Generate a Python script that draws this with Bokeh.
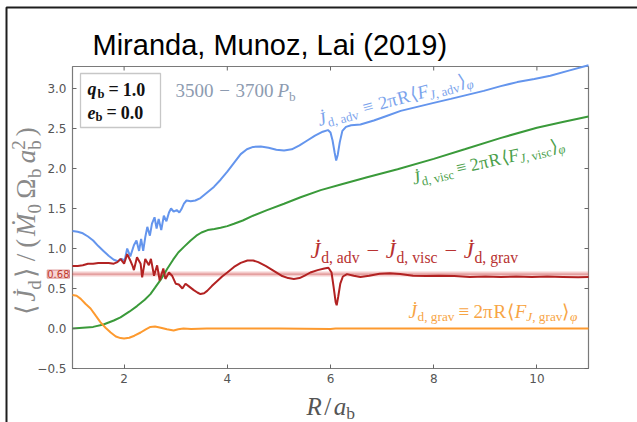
from math import cos, sin, radians

from bokeh.plotting import figure
from bokeh.models import Label, BoxAnnotation, Range1d, FixedTicker
from bokeh.embed import file_html
from bokeh.resources import INLINE

# ---------------- data: time-averaged angular momentum transfer profiles ----------------
r_adv = [1.00, 1.10, 1.20, 1.30, 1.40, 1.50, 1.60, 1.70, 1.80, 1.88, 1.95, 2.01, 2.06, 2.12,
         2.19, 2.24, 2.29, 2.33, 2.37, 2.41, 2.45, 2.50, 2.54, 2.59, 2.63, 2.67, 2.72, 2.77,
         2.82, 2.87, 2.91, 2.96, 3.02, 3.07, 3.11, 3.16, 3.21, 3.29, 3.38, 3.48, 3.61, 3.74,
         3.87, 4.00, 4.13, 4.26, 4.38, 4.50, 4.65, 4.80, 4.95, 5.10, 5.25, 5.40, 5.55, 5.70,
         5.85, 5.95, 6.00, 6.04, 6.08, 6.11, 6.14, 6.18, 6.23, 6.30, 6.40, 6.58, 6.84, 7.10,
         7.36, 7.68, 8.00, 8.33, 8.65, 8.97, 9.30, 9.62, 9.95, 10.26, 10.60, 11.00]
j_adv = [1.22, 1.21, 1.19, 1.15, 1.10, 1.03, 0.97, 0.91, 0.86, 0.84, 0.87, 0.85, 1.00, 0.90,
         1.04, 1.10, 0.97, 1.12, 0.97, 1.14, 1.27, 1.16, 1.31, 1.39, 1.25, 1.37, 1.23, 1.41,
         1.34, 1.45, 1.50, 1.46, 1.48, 1.45, 1.49, 1.56, 1.60, 1.59, 1.60, 1.63, 1.70, 1.77,
         1.86, 1.96, 2.07, 2.18, 2.24, 2.27, 2.275, 2.26, 2.235, 2.225, 2.24, 2.29, 2.35, 2.41,
         2.46, 2.48, 2.45, 2.35, 2.20, 2.10, 2.17, 2.33, 2.47, 2.52, 2.54, 2.55, 2.60, 2.66,
         2.72, 2.77, 2.82, 2.87, 2.92, 2.97, 3.03, 3.08, 3.12, 3.16, 3.22, 3.29]

r_visc = [1.00, 1.20, 1.40, 1.60, 1.80, 1.93, 2.10, 2.25, 2.40, 2.51, 2.60, 2.71, 2.84, 2.95,
          3.05, 3.16, 3.29, 3.40, 3.50, 3.62, 3.75, 3.87, 4.00, 4.13, 4.30, 4.50, 4.77, 5.10,
          5.42, 5.81, 6.20, 6.71, 7.30, 8.00, 8.60, 9.29, 10.00, 10.50, 11.00]
j_visc = [0.00, 0.01, 0.02, 0.05, 0.10, 0.14, 0.21, 0.28, 0.36, 0.43, 0.51, 0.61, 0.75, 0.86,
          0.95, 1.02, 1.10, 1.16, 1.20, 1.23, 1.245, 1.26, 1.28, 1.31, 1.35, 1.41, 1.48, 1.56,
          1.64, 1.73, 1.80, 1.89, 1.99, 2.12, 2.24, 2.38, 2.51, 2.58, 2.65]

r_net = [1.00, 1.10, 1.20, 1.30, 1.40, 1.50, 1.60, 1.70, 1.80, 1.87, 1.93, 2.00, 2.06, 2.12,
         2.16, 2.19, 2.25, 2.32, 2.35, 2.41, 2.48, 2.52, 2.58, 2.64, 2.69, 2.76, 2.80, 2.87,
         2.93, 3.00, 3.06, 3.13, 3.19, 3.25, 3.35, 3.42, 3.48, 3.55, 3.61, 3.70, 3.80, 3.90,
         4.00, 4.13, 4.26, 4.39, 4.50, 4.60, 4.75, 4.90, 5.05, 5.18, 5.29, 5.40, 5.50, 5.61,
         5.75, 5.88, 5.96, 6.02, 6.06, 6.10, 6.12, 6.15, 6.19, 6.24, 6.32, 6.45, 6.58, 6.75,
         6.95, 7.15, 7.35, 7.60, 7.85, 8.10, 8.40, 8.70, 9.00, 9.30, 9.60, 9.90, 10.20, 10.50,
         10.80, 11.00]
j_net = [0.78, 0.78, 0.79, 0.81, 0.81, 0.82, 0.82, 0.82, 0.81, 0.83, 0.87, 0.81, 0.93, 0.85,
         0.79, 0.73, 0.89, 0.81, 0.64, 0.87, 0.79, 0.87, 0.66, 0.79, 0.60, 0.75, 0.62, 0.70,
         0.66, 0.56, 0.55, 0.50, 0.56, 0.53, 0.48, 0.45, 0.43, 0.44, 0.47, 0.53, 0.59, 0.65,
         0.70, 0.77, 0.82, 0.85, 0.85, 0.83, 0.78, 0.72, 0.66, 0.63, 0.62, 0.63, 0.66, 0.70,
         0.73, 0.75, 0.76, 0.70, 0.52, 0.33, 0.29, 0.40, 0.56, 0.65, 0.68, 0.66, 0.645, 0.66,
         0.685, 0.69, 0.68, 0.66, 0.655, 0.66, 0.655, 0.645, 0.65, 0.645, 0.65, 0.645, 0.65, 0.645,
         0.64, 0.645]

r_grav = [1.00, 1.08, 1.16, 1.25, 1.35, 1.45, 1.54, 1.64, 1.74, 1.84, 1.93, 2.00, 2.10, 2.20,
          2.32, 2.42, 2.51, 2.60, 2.71, 2.83, 2.96, 3.05, 3.15, 3.30, 3.60, 4.00, 5.00, 6.00,
          6.10, 7.00, 8.00, 9.00, 10.00, 11.00]
j_grav = [0.42, 0.41, 0.37, 0.31, 0.25, 0.16, 0.08, 0.01, -0.05, -0.10, -0.12, -0.125, -0.115, -0.09,
          -0.05, -0.01, 0.02, 0.025, 0.01, -0.01, -0.025, -0.01, 0.00, -0.005, 0.00, 0.00, 0.00, -0.005,
          0.00, 0.00, 0.00, 0.00, 0.00, 0.00]

net_mean = 0.68
net_mean_label = "0.68"

x_ticks = [2, 4, 6, 8, 10]
x_tick_labels = ["2", "4", "6", "8", "10"]
y_ticks = [-0.5, 0.0, 0.5, 1.0, 1.5, 2.0, 2.5, 3.0]
y_tick_labels = ["\u22120.5", "0.0", "0.5", "1.0", "1.5", "2.0", "2.5", "3.0"]

# axes box limits
X0, X1 = 1.0, 11.0
Y0, Y1 = -0.5, 3.275

C_ADV, C_VISC, C_NET, C_GRAV = "#6495ed", "#3a9a3a", "#b22222", "#fd9a2f"

# page-pixel helpers: the axes box spans 72..588 px across and 66..368 px down
PX_PER_X = 51.6
PX_PER_Y = 80.0
W, H = 637, 422


def dx(px):
    return X0 + (px - 72) / PX_PER_X


def dy(py):
    return Y0 + (368 - py) / PX_PER_Y


# ---------------- figure ----------------
# the frame fills the whole canvas; the axes are pinned to the edges of the box
p = figure(width=W, height=H, x_range=Range1d(dx(0), dx(W)), y_range=Range1d(dy(H), dy(0)),
           output_backend="svg", toolbar_location=None,
           min_border_left=0, min_border_right=0, min_border_top=0, min_border_bottom=0)
p.xgrid.visible = False
p.ygrid.visible = False
p.outline_line_color = None
p.background_fill_color = "white"
p.border_fill_color = "white"

p.xaxis.fixed_location = Y0
p.yaxis.fixed_location = X0
for ax in (p.xaxis[0], p.yaxis[0]):
    ax.axis_line_color = None
    ax.major_tick_in = 4
    ax.major_tick_out = 0
    ax.minor_tick_line_color = None
    ax.major_tick_line_color = "#666666"
    ax.major_label_text_font = "DejaVu Sans"
    ax.major_label_text_font_size = "12px"
    ax.major_label_text_color = "#555555"
    ax.major_label_standoff = 5

p.xaxis.ticker = FixedTicker(ticks=x_ticks)
p.xaxis.major_label_overrides = {t: s for t, s in zip(x_ticks, x_tick_labels)}
p.yaxis.ticker = FixedTicker(ticks=y_ticks)
p.yaxis.major_label_overrides = {t: s for t, s in zip(y_ticks, y_tick_labels)}
p.yaxis.major_label_standoff = 6

# dark page frame along the top and left edges
p.line([dx(6), dx(6), dx(W)], [dy(H), dy(7), dy(7)], line_color="#1e1e1e", line_width=2)

# axes box
p.quad(left=[X0], right=[X1], bottom=[Y0], top=[Y1], fill_color=None,
       line_color="#7a7a7a", line_width=1.2)

# tick marks on the top and right edges of the box (pointing inward)
tx = 4 / PX_PER_Y
ty = 4 / PX_PER_X
p.segment(x0=x_ticks, y0=[Y1] * len(x_ticks), x1=x_ticks, y1=[Y1 - tx] * len(x_ticks),
          line_color="#666666", line_width=1)
p.segment(x0=[X1] * len(y_ticks), y0=y_ticks, x1=[X1 - ty] * len(y_ticks), y1=y_ticks,
          line_color="#666666", line_width=1)

# mean of the net transfer rate
p.line([X0, X1], [net_mean, net_mean], line_color="#e07070", line_width=5, line_alpha=0.35)
p.line([X0, X1], [net_mean, net_mean], line_color="#c03a3a", line_width=1.3, line_alpha=0.8,
       line_dash="1 1")

# profiles
p.line(r_adv, j_adv, line_color=C_ADV, line_width=2)
p.line(r_visc, j_visc, line_color=C_VISC, line_width=2)
p.line(r_grav, j_grav, line_color=C_GRAV, line_width=2)
p.line(r_net, j_net, line_color=C_NET, line_width=2)


# ---------------- text helpers ----------------
W_REG = {'a': .444, 'b': .5, 'c': .444, 'd': .5, 'e': .444, 'g': .5, 'i': .278, 'r': .333,
         's': .389, 'v': .5, ',': .25, '.': .25, '=': .564, '\u2261': .564, '\u2212': .564,
         '/': .278, '(': .333, ')': .333, 'R': .667, 'F': .556, 'J': .389, 'P': .556,
         'M': .889, '\u03a9': .768, '\u03c0': .55, '\u27e8': .39, '\u27e9': .39,
         '\u03c6': .55, ' ': .25, 'q': .5, '\u0307': 0.0, '\u1e40': .889}
W_REG.update({str(k): .5 for k in range(10)})
W_IT = {'J': .444, 'F': .611, 'R': .611, 'P': .611, 'M': .833, '\u1e40': .833, 'q': .5,
        'e': .444, 'a': .5, 'd': .5, '\u03c6': .55, '\u03c0': .55, '\u0307': 0.0}
W_BOLD = {'q': .556, 'e': .444, 'b': .556, '=': .57, '.': .25}
W_BOLD.update({str(k): .5 for k in range(10)})
STYLE = {"n": "normal", "i": "italic", "b": "bold", "bi": "bold italic"}
BASE_LIFT = 0.3   # raises the label anchor so the glyph baseline sits on the requested line


def text_width(s, style):
    tbl = {"n": W_REG, "i": W_IT, "b": W_BOLD, "bi": W_BOLD}[style]
    return sum(tbl.get(c, W_REG.get(c, 0.5)) for c in s)


def put_math(x, y, parts, size, color, angle=0.0, font="Liberation Serif"):
    """Lay out a formula as a run of labels along a (possibly rotated) baseline.
    parts: (text, level, style) with level 0 / -1 (subscript) / +1 (superscript),
    or a number giving extra horizontal space in em."""
    a = radians(angle)
    d = 0.0
    for part in parts:
        if isinstance(part, (int, float)):
            d += part * size
            continue
        s, lvl, style = part
        fs = size * 0.7 if lvl else size
        v = {0: 0.0, -1: -0.2 * size, 1: 0.4 * size}[lvl] + BASE_LIFT * fs
        ox = d * cos(a) - v * sin(a)
        oy = d * sin(a) + v * cos(a)
        p.add_layout(Label(x=x, y=y, x_offset=ox, y_offset=oy, text=s, angle=a,
                           text_font=font, text_font_style=STYLE[style],
                           text_font_size=f"{fs:.1f}px", text_color=color,
                           text_align="left", text_baseline="alphabetic"))
        d += text_width(s, style) * fs


def jdot(sub):
    return [("J\u0307", 0, "i"), 0.03, (sub, -1, "n")]


def flux(sub, gap=0.22):
    return [gap, ("\u2261", 0, "n"), gap, ("2\u03c0", 0, "n"), ("R", 0, "n"), 0.06,
            ("\u27e8", 0, "n"), ("F", 0, "i"), ("J", -1, "i"), (", " + sub, -1, "n"),
            ("\u27e9", 0, "n"), ("\u03c6", -1, "i")]


# title
p.add_layout(Label(x=dx(92), y=dy(53), y_offset=BASE_LIFT * 29, text="Miranda, Munoz, Lai (2019)",
                   text_font="Liberation Sans", text_font_size="29px", text_color="black",
                   text_align="left", text_baseline="alphabetic"))

# parameter box
p.add_layout(BoxAnnotation(left=dx(80), right=dx(160), top=dy(73), bottom=dy(127),
                           fill_color="white", fill_alpha=1.0, line_color="#444444",
                           line_width=1.3))
put_math(dx(87), dy(94), [("q", 0, "bi"), ("b", -1, "b"), 0.22, ("=", 0, "b"), 0.22,
                          ("1.0", 0, "b")], 18, "#111111")
put_math(dx(87), dy(117), [("e", 0, "bi"), ("b", -1, "b"), 0.22, ("=", 0, "b"), 0.22,
                           ("0.0", 0, "b")], 18, "#111111")

# averaging window
put_math(dx(175), dy(96), [("3500", 0, "n"), 0.3, ("\u2212", 0, "n"), 0.3, ("3700", 0, "n"),
                           0.2, ("P", 0, "i"), ("b", -1, "n")], 19, "#8d9bb0")

# curve annotations
put_math(dx(319), dy(125), jdot("d, adv") + flux("adv", gap=0.32), 18.5, "#7aa3ec", angle=15)
put_math(dx(413), dy(183.5), jdot("d, visc") + flux("visc"), 18, "#4c9f4c", angle=13)
put_math(dx(310), dy(257), jdot("d, adv") + [0.3, ("\u2212", 0, "n"), 0.3] + jdot("d, visc")
         + [0.3, ("\u2212", 0, "n"), 0.3] + jdot("d, grav"), 22.5, "#b83232")
put_math(dx(408), dy(316.5), jdot("d, grav") + flux("grav"), 19, "#f7a545")

# mean value tag beside the left axis
p.add_layout(Label(x=dx(69), y=net_mean, text=net_mean_label, text_font="DejaVu Sans",
                   text_font_size="10px", text_color="#c0392b", text_align="right",
                   text_baseline="middle", background_fill_color="#f7d3d3",
                   border_line_color="#d98a8a", border_line_width=1))

# axis titles
put_math(dx(306), dy(413), [("R", 0, "i"), 0.1, ("/", 0, "n"), 0.1, ("a", 0, "i"),
                            ("b", -1, "n")], 25, "#555555")
put_math(dx(34), dy(314), [("\u27e8", 0, "n"), 0.08, ("J\u0307", 0, "i"), ("d", -1, "n"), 0.1,
                           ("\u27e9", 0, "n"), 0.22, ("/", 0, "n"), 0.22, ("(", 0, "n"), 0.1,
                           ("\u1e40", 0, "i"), ("0", -1, "n"), 0.2, ("\u03a9", 0, "n"),
                           ("b", -1, "n"), 0.2, ("a", 0, "i"), ("b", -1, "n"), -0.35,
                           ("2", 1, "n"), 0.15, (")", 0, "n")], 27, "#8a8a8a", angle=90)

open("out.html", "w").write(file_html(p, INLINE))
